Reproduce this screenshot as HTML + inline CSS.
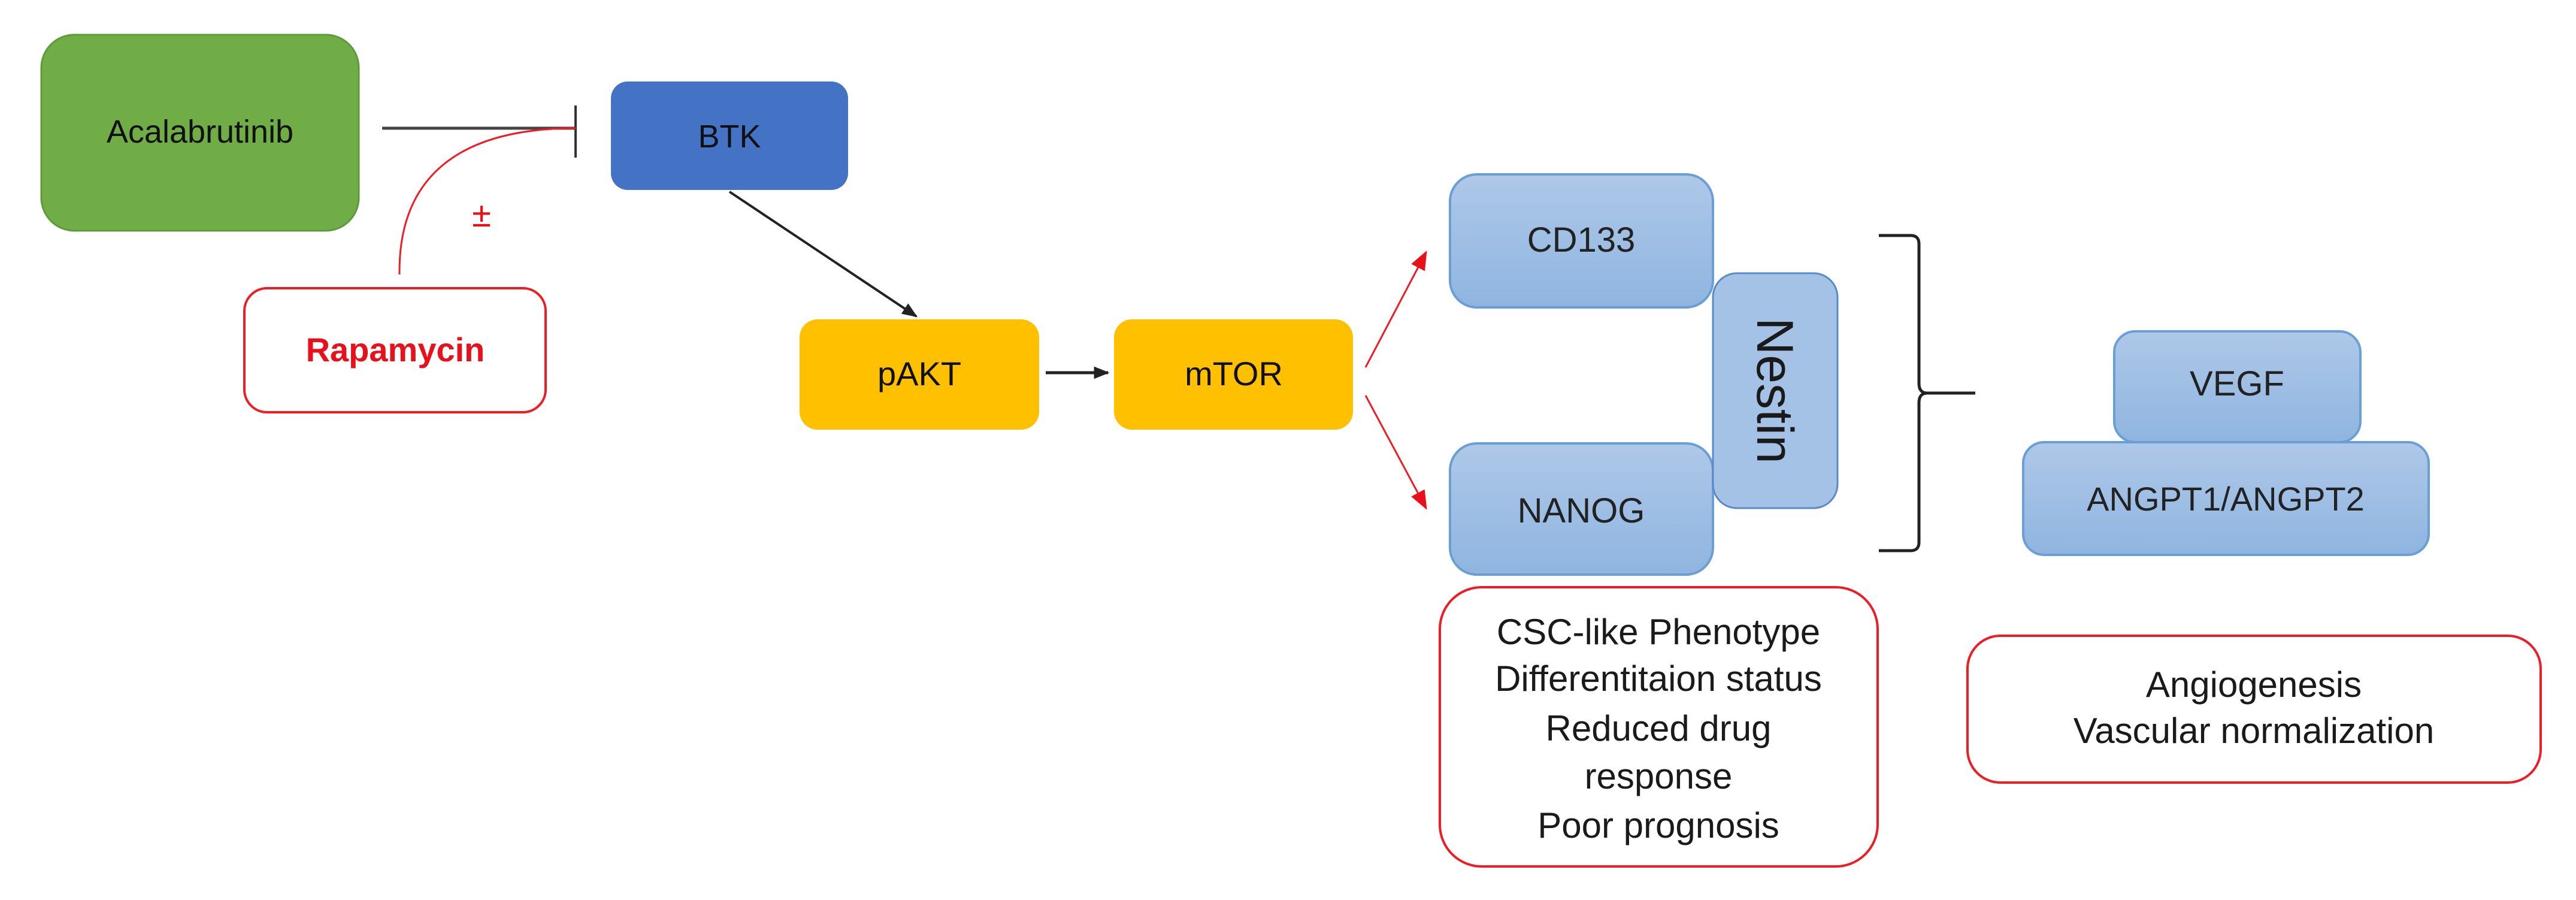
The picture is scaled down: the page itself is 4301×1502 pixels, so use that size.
<!DOCTYPE html>
<html><head><meta charset="utf-8"><style>
html,body{margin:0;padding:0;background:#fff;}
svg{display:block;font-family:"Liberation Sans",Arial,sans-serif;}
</style></head><body>
<svg width="4301" height="1502" viewBox="0 0 4301 1502" xmlns="http://www.w3.org/2000/svg">
<defs>
<linearGradient id="bg" x1="0" y1="0" x2="0" y2="1"><stop offset="0" stop-color="#aec8e8"/><stop offset="1" stop-color="#8fb5e0"/></linearGradient>
<marker id="ab" markerWidth="10" markerHeight="10" refX="9" refY="5" orient="auto" markerUnits="userSpaceOnUse" viewBox="0 0 10 10"><path d="M0,0 L10,5 L0,10 z" fill="#222"/></marker>
<marker id="ar" viewBox="0 0 10 10" refX="9" refY="5" markerWidth="32" markerHeight="32" orient="auto" markerUnits="userSpaceOnUse"><path d="M0,1 L10,5 L0,9 z" fill="#e8101a"/></marker>
<marker id="ak" viewBox="0 0 10 10" refX="9" refY="5" markerWidth="26" markerHeight="26" orient="auto" markerUnits="userSpaceOnUse"><path d="M0,1 L10,5 L0,9 z" fill="#222"/></marker>
</defs>
<!-- Acalabrutinib -->
<rect x="69" y="58" width="530" height="327" rx="55" fill="#70ad47" stroke="#5f9a3a" stroke-width="3"/>
<text x="334" y="238" font-size="54" text-anchor="middle" fill="#111">Acalabrutinib</text>
<!-- inhibition -->
<line x1="638" y1="214" x2="961" y2="214" stroke="#444" stroke-width="5"/>
<line x1="961" y1="176" x2="961" y2="263" stroke="#333" stroke-width="4"/>
<path d="M667,458 C665,300 760,214 961,214" fill="none" stroke="#ee1c24" stroke-width="3"/>
<text x="804" y="378" font-size="58" text-anchor="middle" fill="#e8101a">±</text>
<!-- Rapamycin -->
<rect x="408" y="481" width="503" height="207" rx="38" fill="#fff" stroke="#ee1c24" stroke-width="4"/>
<text x="660" y="603" font-size="56" font-weight="bold" text-anchor="middle" fill="#e8101a">Rapamycin</text>
<!-- BTK -->
<rect x="1020" y="136" width="396" height="181" rx="28" fill="#4472c4"/>
<text x="1218" y="246" font-size="54" text-anchor="middle" fill="#111">BTK</text>
<line x1="1218" y1="320" x2="1530" y2="528" stroke="#222" stroke-width="4" marker-end="url(#ak)"/>
<!-- pAKT mTOR -->
<rect x="1335" y="533" width="400" height="184" rx="30" fill="#ffc000"/>
<text x="1535" y="643" font-size="56" text-anchor="middle" fill="#111">pAKT</text>
<rect x="1860" y="533" width="399" height="184" rx="30" fill="#ffc000"/>
<text x="2060" y="643" font-size="56" text-anchor="middle" fill="#111">mTOR</text>
<line x1="1746" y1="622" x2="1850" y2="622" stroke="#222" stroke-width="5" marker-end="url(#ak)"/>
<!-- red arrows -->
<line x1="2280" y1="613" x2="2381" y2="421" stroke="#ee1c24" stroke-width="3" marker-end="url(#ar)"/>
<line x1="2280" y1="660" x2="2381" y2="848" stroke="#ee1c24" stroke-width="3" marker-end="url(#ar)"/>
<!-- CD133 / NANOG / Nestin -->
<rect x="2421" y="291" width="439" height="222" rx="45" fill="url(#bg)" stroke="#6a9fd6" stroke-width="4"/>
<text x="2640" y="420" font-size="58" text-anchor="middle" fill="#222">CD133</text>
<rect x="2421" y="740" width="439" height="219" rx="45" fill="url(#bg)" stroke="#6a9fd6" stroke-width="4"/>
<text x="2640" y="872" font-size="58" text-anchor="middle" fill="#222">NANOG</text>
<rect x="2860" y="456" width="208" height="392" rx="40" fill="#a4c2e6" stroke="#5b8bc6" stroke-width="3"/>
<text transform="translate(2964,652) rotate(90)" x="0" y="30" font-size="86" text-anchor="middle" fill="#1a1a1a">Nestin</text>
<!-- bracket -->
<path d="M3137,393 L3190,393 Q3204,393 3204,407 L3204,640 Q3204,656 3218,656 Q3204,656 3204,672 L3204,905 Q3204,919 3190,919 L3137,919" fill="none" stroke="#222" stroke-width="5"/>
<line x1="3212" y1="656" x2="3298" y2="656" stroke="#222" stroke-width="5"/>
<!-- VEGF ANGPT -->
<rect x="3530" y="553" width="411" height="185" rx="35" fill="url(#bg)" stroke="#6a9fd6" stroke-width="4"/>
<text x="3735" y="660" font-size="58" text-anchor="middle" fill="#222">VEGF</text>
<rect x="3378" y="738" width="677" height="188" rx="35" fill="url(#bg)" stroke="#6a9fd6" stroke-width="4"/>
<text x="3716" y="852" font-size="56" text-anchor="middle" fill="#222">ANGPT1/ANGPT2</text>
<!-- CSC box -->
<rect x="2404" y="980" width="731" height="466" rx="70" fill="#fff" stroke="#ee1c24" stroke-width="4"/>
<g font-size="60" text-anchor="middle" fill="#1a1a1a">
<text x="2769" y="1075">CSC-like Phenotype</text>
<text x="2769" y="1153">Differentitaion status</text>
<text x="2769" y="1236">Reduced drug</text>
<text x="2769" y="1316">response</text>
<text x="2769" y="1398">Poor prognosis</text>
</g>
<!-- Angio box -->
<rect x="3285" y="1061" width="957" height="245" rx="55" fill="#fff" stroke="#ee1c24" stroke-width="4"/>
<g font-size="60" text-anchor="middle" fill="#1a1a1a">
<text x="3763" y="1163">Angiogenesis</text>
<text x="3763" y="1240">Vascular normalization</text>
</g>
</svg>
</body></html>
